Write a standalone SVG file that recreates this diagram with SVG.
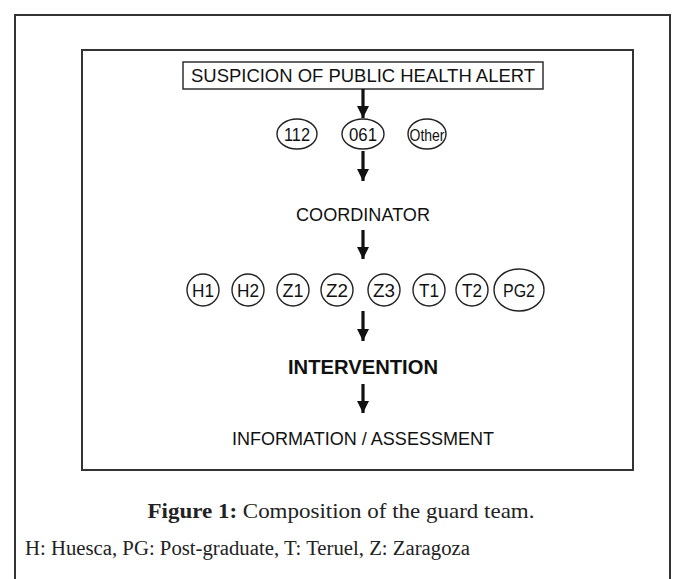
<svg xmlns="http://www.w3.org/2000/svg" width="683" height="579" viewBox="0 0 683 579">
<style>
.frame{fill:none;stroke:#333;stroke-width:2}
.node{fill:#fff;stroke:#222;stroke-width:1.4}
.t{font-family:"Liberation Sans",Arial,sans-serif;fill:#111;text-anchor:middle}
.cap{font-family:"Liberation Serif","Times New Roman",serif;fill:#222}
.arr{stroke:#111;stroke-width:3.2;fill:none}
</style>
<defs>
<marker id="ah" viewBox="0 0 10 10" refX="10" refY="5" markerWidth="3.8" markerHeight="3.8" markerUnits="strokeWidth" orient="auto">
<path d="M0,0 L10,5 L0,10 Z" fill="#111"/>
</marker>
</defs>
<rect width="683" height="579" fill="#fff"/>
<path class="frame" d="M15,579 V15 H670 V579"/>
<rect class="frame" x="82" y="50" width="551" height="420"/>

<g id="alert">
<rect class="node" x="183" y="62" width="360" height="27"/>
<text class="t" x="363" y="82" font-size="18" textLength="344" lengthAdjust="spacingAndGlyphs">SUSPICION OF PUBLIC HEALTH ALERT</text>
</g>
<g id="n112"><ellipse class="node" cx="297" cy="134" rx="20" ry="15"/><text class="t" x="297" y="140.5" font-size="18" textLength="26" lengthAdjust="spacingAndGlyphs">112</text></g>
<g id="n061"><ellipse class="node" cx="363" cy="134" rx="21" ry="15"/><text class="t" x="363" y="140.5" font-size="18" textLength="28" lengthAdjust="spacingAndGlyphs">061</text></g>
<g id="nOther"><ellipse class="node" cx="427" cy="134" rx="19" ry="15"/><text class="t" x="427" y="140.5" font-size="17" textLength="35" lengthAdjust="spacingAndGlyphs">Other</text></g>
<g id="coordinator"><text class="t" x="363" y="220.5" font-size="18" textLength="134" lengthAdjust="spacingAndGlyphs">COORDINATOR</text></g>
<g id="H1"><circle class="node" cx="203" cy="290" r="16"/><text class="t" x="203" y="296.5" font-size="18" textLength="22" lengthAdjust="spacingAndGlyphs">H1</text></g>
<g id="H2"><circle class="node" cx="248" cy="290" r="16"/><text class="t" x="248" y="296.5" font-size="18" textLength="22" lengthAdjust="spacingAndGlyphs">H2</text></g>
<g id="Z1"><circle class="node" cx="293" cy="290" r="16"/><text class="t" x="293" y="296.5" font-size="18" textLength="21" lengthAdjust="spacingAndGlyphs">Z1</text></g>
<g id="Z2"><circle class="node" cx="337" cy="290" r="16"/><text class="t" x="337" y="296.5" font-size="18" textLength="22" lengthAdjust="spacingAndGlyphs">Z2</text></g>
<g id="Z3"><circle class="node" cx="384" cy="290" r="16"/><text class="t" x="384" y="296.5" font-size="18" textLength="22" lengthAdjust="spacingAndGlyphs">Z3</text></g>
<g id="T1"><circle class="node" cx="429" cy="290" r="16"/><text class="t" x="429" y="296.5" font-size="18" textLength="20" lengthAdjust="spacingAndGlyphs">T1</text></g>
<g id="T2"><circle class="node" cx="472" cy="290" r="16"/><text class="t" x="472" y="296.5" font-size="18" textLength="20" lengthAdjust="spacingAndGlyphs">T2</text></g>
<g id="PG2"><ellipse class="node" cx="519" cy="290" rx="25" ry="21"/><text class="t" x="519" y="296.5" font-size="18" textLength="32" lengthAdjust="spacingAndGlyphs">PG2</text></g>
<g id="intervention"><text class="t" x="363" y="374" font-size="21" font-weight="bold" textLength="150" lengthAdjust="spacingAndGlyphs">INTERVENTION</text></g>
<g id="info"><text class="t" x="363" y="445" font-size="18" textLength="262" lengthAdjust="spacingAndGlyphs">INFORMATION / ASSESSMENT</text></g>

<g id="connectors">
<line class="arr" x1="363" y1="89" x2="363" y2="118" marker-end="url(#ah)"/>
<line class="arr" x1="363" y1="151" x2="363" y2="181" marker-end="url(#ah)"/>
<line class="arr" x1="363" y1="230" x2="363" y2="259" marker-end="url(#ah)"/>
<line class="arr" x1="363" y1="311" x2="363" y2="341" marker-end="url(#ah)"/>
<line class="arr" x1="363" y1="384" x2="363" y2="413" marker-end="url(#ah)"/>
</g>

<text class="cap" x="341" y="518" font-size="21" text-anchor="middle" textLength="387" lengthAdjust="spacingAndGlyphs"><tspan font-weight="bold">Figure 1:</tspan> Composition of the guard team.</text>
<text class="cap" x="25" y="555" font-size="20" textLength="445" lengthAdjust="spacingAndGlyphs">H: Huesca, PG: Post-graduate, T: Teruel, Z: Zaragoza</text>
</svg>
